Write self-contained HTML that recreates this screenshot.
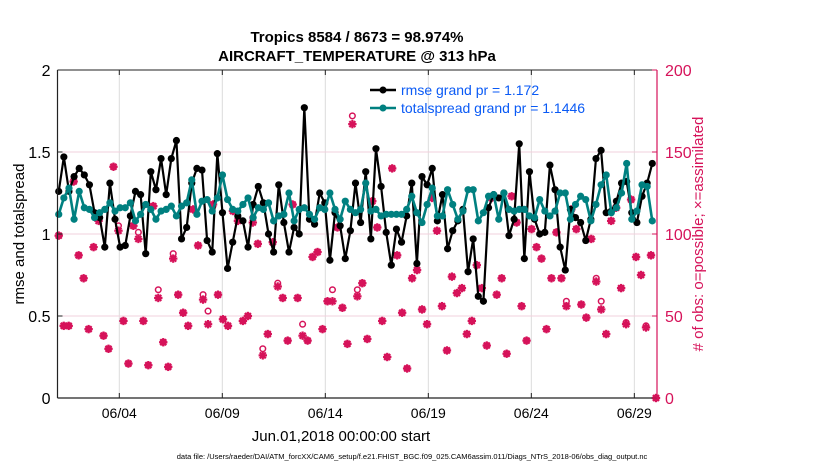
<!DOCTYPE html>
<html><head><meta charset="utf-8">
<style>
html,body{margin:0;padding:0;background:#fff;}
svg{display:block;font-family:"Liberation Sans",Arial,sans-serif;}
</style></head>
<body>
<svg id="chart" width="830" height="470" viewBox="0 0 830 470" xmlns="http://www.w3.org/2000/svg">
<rect x="0" y="0" width="830" height="470" fill="#fff"/>
<g id="grid"></g>
<g id="series"></g>
<g id="axes"></g>
<text x="357" y="42" text-anchor="middle" font-size="15" font-weight="bold">Tropics 8584 / 8673 = 98.974%</text>
<text x="357" y="61" text-anchor="middle" font-size="15" font-weight="bold">AIRCRAFT_TEMPERATURE @ 313 hPa</text>
<text transform="translate(24,234) rotate(-90)" text-anchor="middle" font-size="15">rmse and totalspread</text>
<text transform="translate(703,234) rotate(-90)" text-anchor="middle" font-size="15" fill="#d6135a">#  of obs: o=possible; ×=assimilated</text>
<text x="341" y="441" text-anchor="middle" font-size="15">Jun.01,2018 00:00:00 start</text>
<text x="412" y="459" text-anchor="middle" font-size="7.5">data file: /Users/raeder/DAI/ATM_forcXX/CAM6_setup/f.e21.FHIST_BGC.f09_025.CAM6assim.011/Diags_NTrS_2018-06/obs_diag_output.nc</text>
<g>
  <g>
    <line x1="370" y1="90" x2="396" y2="90" stroke="#000" stroke-width="2.5"/>
    <circle cx="383" cy="90" r="3.5" fill="#000"/>
    <text x="401" y="95" font-size="14" fill="#0a5af5">rmse grand pr = 1.172</text>
  </g>
  <g>
    <line x1="370" y1="108" x2="396" y2="108" stroke="#008080" stroke-width="2.5"/>
    <circle cx="383" cy="108" r="3.5" fill="#008080"/>
    <text x="401" y="113" font-size="14" fill="#0a5af5">totalspread grand pr = 1.1446</text>
  </g>
</g>
</svg>
<script>
const rmse = [1.26,1.47,1.26,1.35,1.40,1.36,1.30,1.13,1.10,0.92,1.31,1.09,0.92,0.93,1.11,1.26,1.24,0.88,1.38,1.27,1.46,1.24,1.46,1.57,0.97,1.04,1.31,1.40,1.39,0.96,
0.89,1.49,1.13,0.79,0.95,1.11,1.08,0.92,1.18,1.29,1.19,1.00,0.89,1.30,1.07,0.89,1.04,1.00,1.77,1.09,1.06,1.25,1.19,0.84,1.13,1.05,0.85,1.02,1.31,1.07,1.38,
0.97,1.52,1.29,1.01,0.81,1.03,0.95,1.11,1.31,0.82,1.35,1.30,1.40,1.08,1.24,0.91,1.02,1.08,1.15,0.77,0.97,0.62,0.59,1.16,1.24,1.22,1.25,0.99,
1.09,1.55,0.85,1.38,1.09,1.00,1.01,1.42,1.27,0.92,0.78,1.15,1.10,1.07,0.96,1.09,1.46,1.51,1.13,1.14,1.20,1.31,1.32,1.13,1.07,1.23,1.31,1.43];
const spread = [1.12,1.22,1.28,1.09,1.26,1.16,1.15,1.10,1.13,1.15,1.19,1.14,1.16,1.16,1.19,1.08,1.12,1.18,1.15,1.09,1.14,1.15,1.17,1.11,1.17,1.19,1.33,1.12,1.20,1.21,
1.14,1.22,1.36,1.21,1.15,1.14,1.18,1.22,1.10,1.16,1.15,1.19,1.08,1.11,1.12,1.25,1.08,1.15,1.16,1.12,1.09,1.16,1.15,1.25,1.15,1.09,1.20,1.15,1.13,1.15,1.31,
1.14,1.15,1.11,1.12,1.12,1.12,1.12,1.15,1.23,1.13,1.07,1.18,1.28,1.11,1.11,1.27,1.18,1.09,1.14,1.27,1.27,1.08,1.13,1.23,1.24,1.09,1.25,1.15,
1.14,1.15,1.15,1.11,1.10,1.21,1.14,1.11,1.14,1.25,1.25,1.09,1.18,1.23,1.21,1.08,1.18,1.30,1.36,1.13,1.16,1.25,1.43,1.09,1.14,1.30,1.29,1.08];
const assimilated = [99,44,44,132,87,73,42,92,108,38,30,141,102,47,21,105,97,47,20,117,61,34,19,85,63,52,44,115,93,60,45,
118,63,48,44,114,108,47,50,107,94,26,39,95,68,61,35,118,61,38,35,86,89,42,59,59,104,55,33,167,62,70,
36,120,104,47,25,140,87,52,18,73,78,54,45,122,102,56,29,74,64,67,39,47,81,67,32,122,63,73,27,123,
107,56,35,103,92,85,42,73,101,73,56,115,103,57,49,97,71,54,39,108,116,67,45,121,86,75,43,87,0];
const possible = [99,44,44,132,87,73,42,92,112,38,30,141,105,47,21,105,101,47,20,117,66,34,19,88,63,52,44,115,93,63,53,
118,63,48,44,114,108,47,50,110,94,30,39,95,70,61,35,118,61,45,35,86,89,42,59,66,104,55,33,172,66,70,
36,120,104,47,25,140,87,52,18,73,78,54,45,122,102,56,29,74,64,67,39,47,81,67,32,122,63,73,27,123,
107,56,35,103,92,85,42,73,101,73,59,115,103,57,49,97,73,59,39,108,116,67,46,121,86,75,44,87,0];
const xTickLabels = ["06/04","06/09","06/14","06/19","06/24","06/29"];
const xTickDays = [3,8,13,18,23,28];
const leftTicks = [0,0.5,1,1.5,2];
const rightTicks = [0,50,100,150,200];

const X0=57.5, X1=657, Y0=398, Y1=70, DMAX=29.1;
const xs = d => X0 + (d/DMAX)*(X1-X0);
const yl = v => Y0 - (v/2)*(Y0-Y1);
const yr = v => Y0 - (v/200)*(Y0-Y1);
const NS="http://www.w3.org/2000/svg";
function mk(tag, attrs, parent){const e=document.createElementNS(NS,tag);for(const k in attrs)e.setAttribute(k,attrs[k]);parent.appendChild(e);return e;}
const grid=document.getElementById('grid'), ser=document.getElementById('series'), axes=document.getElementById('axes');
const dayOf = (i,n,start,end) => start + i*(end-start)/(n-1);

xTickDays.forEach((d,i)=>{const l=mk('line',{x1:xs(d),x2:xs(d),y1:Y1,y2:Y0,stroke:'#dcdcdc','stroke-width':1},grid);

});
rightTicks.slice(1,4).forEach(v=>{const l=mk('line',{x1:X0,x2:X1,y1:yr(v),y2:yr(v),stroke:'#f2d0dc','stroke-width':1},grid);

});

const PINK='#d6135a';
assimilated.forEach((v,i)=>{
  const x=xs(dayOf(i,assimilated.length,0.06,DMAX-0.05));
  const g=mk('g',{},ser);
  
  
  const y=yr(v), r=4.2, s=3;
  mk('line',{x1:x-r,x2:x+r,y1:y,y2:y,stroke:PINK,'stroke-width':2.2},g);
  mk('line',{x1:x,x2:x,y1:y-r,y2:y+r,stroke:PINK,'stroke-width':2.2},g);
  mk('line',{x1:x-s,x2:x+s,y1:y-s,y2:y+s,stroke:PINK,'stroke-width':2.2},g);
  mk('line',{x1:x-s,x2:x+s,y1:y+s,y2:y-s,stroke:PINK,'stroke-width':2.2},g);
  const p=possible[i];
  const c=mk('circle',{cx:x,cy:yr(p),r:2.8,fill:'none',stroke:PINK,'stroke-width':1.5},ser);
  
  
});

function drawLine(vals,color,name,w){
  const pts=vals.map((v,i)=>[xs(dayOf(i,vals.length,0.06,28.87)),yl(v)]);
  const pl=mk('polyline',{points:pts.map(p=>p.join(',')).join(' '),fill:'none',stroke:color,'stroke-width':w,'stroke-linejoin':'round'},ser);
  
  
  pts.forEach(p=>{const c=mk('circle',{cx:p[0],cy:p[1],r:3.6,fill:color},ser);
    
    });
}
drawLine(rmse,'#000','rmse',2.2);
drawLine(spread,'#008080','totalspread',2.6);

let a=mk('line',{x1:X0,x2:X0,y1:Y1,y2:Y0,stroke:'#222','stroke-width':1.2},axes);


a=mk('line',{x1:X0,x2:X1,y1:Y0,y2:Y0,stroke:'#222','stroke-width':1.2},axes);


a=mk('line',{x1:X0,x2:X1,y1:Y1,y2:Y1,stroke:'#222','stroke-width':1},axes);


a=mk('line',{x1:X1,x2:X1,y1:Y1,y2:Y0,stroke:PINK,'stroke-width':1.2},axes);


leftTicks.forEach(v=>{
  mk('line',{x1:X0,x2:X0+5,y1:yl(v),y2:yl(v),stroke:'#222'},axes);
  const t=mk('text',{x:X0-7,y:yl(v)+6,'text-anchor':'end','font-size':16},axes);
  t.textContent=v;
  
  
});
rightTicks.forEach(v=>{
  mk('line',{x1:X1-5,x2:X1,y1:yr(v),y2:yr(v),stroke:PINK},axes);
  const t=mk('text',{x:X1+8,y:yr(v)+6,'font-size':16,fill:PINK},axes);
  t.textContent=v;
  
  
});
xTickDays.forEach((d,i)=>{
  mk('line',{x1:xs(d),x2:xs(d),y1:Y0,y2:Y0-5,stroke:'#222'},axes);
  mk('line',{x1:xs(d),x2:xs(d),y1:Y1,y2:Y1+5,stroke:'#222'},axes);
  const t=mk('text',{x:xs(d),y:Y0+20,'text-anchor':'middle','font-size':14},axes);
  t.textContent=xTickLabels[i];
  
  
});
</script>
</body></html>
